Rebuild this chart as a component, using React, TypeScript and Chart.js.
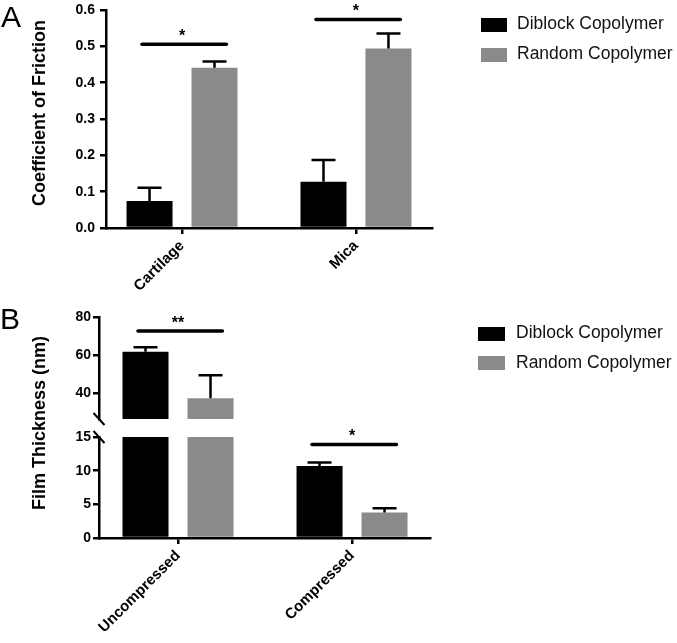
import React, { useEffect, useRef } from 'react';
import Chart from 'chart.js/auto';

const FONT = '"Liberation Sans", Arial, Helvetica, sans-serif';

// ---------- data ----------
const seriesNames = ['Diblock Copolymer', 'Random Copolymer'];
const seriesColors = ['#000000', '#8a8a8a'];

const frictionCategories = ['Cartilage', 'Mica'];
const frictionDiblock = [0.074, 0.127];
const frictionDiblockErr = [0.037, 0.06];
const frictionRandom = [0.441, 0.494];
const frictionRandomErr = [0.017, 0.041];
const frictionTicks = [0, 0.1, 0.2, 0.3, 0.4, 0.5, 0.6];
const frictionSigY = [0.506, 0.574];
const frictionSigLabels = ['*', '*'];

const thicknessCategories = ['Uncompressed', 'Compressed'];
const thicknessDiblock = [61.7, 10.68];
const thicknessDiblockErr = [2.4, 0.55];
const thicknessRandom = [37.1, 3.78];
const thicknessRandomErr = [12.2, 0.65];
const thicknessUpperTicks = [40, 60, 80];
const thicknessLowerTicks = [0, 5, 10, 15];
const thicknessSigY = [72.6, 13.9];
const thicknessSigLabels = ['**', '*'];

// ---------- plugins ----------
function errorBarPlugin(errs: number[][]) {
  return {
    id: 'errorBars',
    afterDatasetsDraw(chart: any) {
      const { ctx, chartArea } = chart;
      const y = chart.scales.y;
      ctx.save();
      ctx.beginPath();
      ctx.rect(chartArea.left, chartArea.top, chartArea.right - chartArea.left, chartArea.bottom - chartArea.top);
      ctx.clip();
      ctx.strokeStyle = '#000';
      ctx.lineWidth = 2.5;
      chart.data.datasets.forEach((ds: any, di: number) => {
        const meta = chart.getDatasetMeta(di);
        meta.data.forEach((bar: any, i: number) => {
          const v = ds.data[i].y;
          const top = y.getPixelForValue(v + errs[di][i]);
          const base = y.getPixelForValue(v);
          const cap = 24;
          ctx.beginPath();
          ctx.moveTo(bar.x, base);
          ctx.lineTo(bar.x, top);
          ctx.moveTo(bar.x - cap / 2, top);
          ctx.lineTo(bar.x + cap / 2, top);
          ctx.stroke();
        });
      });
      ctx.restore();
    },
  };
}

function sigPlugin(ys: number[], labels: string[]) {
  return {
    id: 'sigMarks',
    afterDatasetsDraw(chart: any) {
      const { ctx } = chart;
      const x = chart.scales.x;
      const y = chart.scales.y;
      ys.forEach((v, cat) => {
        if (v < y.min || v > y.max) return;
        const py = y.getPixelForValue(v);
        ctx.save();
        ctx.strokeStyle = '#000';
        ctx.lineWidth = 3.5;
        ctx.lineCap = 'round';
        ctx.beginPath();
        ctx.moveTo(x.getPixelForValue(cat - 0.23), py);
        ctx.lineTo(x.getPixelForValue(cat + 0.255), py);
        ctx.stroke();
        ctx.fillStyle = '#000';
        ctx.font = `bold 16px ${FONT}`;
        ctx.textAlign = 'center';
        ctx.textBaseline = 'alphabetic';
        ctx.fillText(labels[cat], x.getPixelForValue(cat), py - 3);
        ctx.restore();
      });
    },
  };
}

function breakPlugin(at: 'top' | 'bottom' | null) {
  return {
    id: 'axisBreak',
    afterDraw(chart: any) {
      if (!at) return;
      const { ctx, chartArea } = chart;
      const cx = chartArea.left;
      const cy = at === 'top' ? chartArea.top : chartArea.bottom;
      ctx.save();
      ctx.strokeStyle = '#000';
      ctx.lineWidth = 2;
      ctx.beginPath();
      ctx.moveTo(cx - 5.5, cy - 6);
      ctx.lineTo(cx + 5.5, cy + 6);
      ctx.stroke();
      ctx.restore();
    },
  };
}

type Cfg = {
  categories: string[];
  diblock: number[];
  diblockErr: number[];
  random: number[];
  randomErr: number[];
  yMin: number;
  yMax: number;
  yTicks: number[];
  yFormat: (v: number) => string;
  yWidth: number;
  yPad: number;
  xMin: number;
  xMax: number;
  showX: boolean;
  xHeight: number;
  padding: { top: number; right: number; bottom: number; left: number };
  sigY: number[];
  sigLabels: string[];
  breakAt: 'top' | 'bottom' | null;
};

function buildChart(canvas: HTMLCanvasElement, c: Cfg) {
  const mk = (vals: number[]) => vals.map((v, i) => ({ x: i, y: v }));
  const barOpts = { categoryPercentage: 0.747, barPercentage: 0.708, clip: 0, borderWidth: 0 };
  return new Chart(canvas, {
    type: 'bar',
    data: {
      datasets: [
        { label: seriesNames[0], data: mk(c.diblock), backgroundColor: seriesColors[0], ...barOpts },
        { label: seriesNames[1], data: mk(c.random), backgroundColor: seriesColors[1], ...barOpts },
      ] as any,
    },
    options: {
      responsive: false,
      animation: false,
      devicePixelRatio: 1,
      layout: { padding: c.padding },
      plugins: { legend: { display: false }, tooltip: { enabled: false } },
      scales: {
        x: {
          type: 'linear',
          display: c.showX,
          offset: false,
          bounds: 'data',
          min: c.xMin,
          max: c.xMax,
          afterBuildTicks: (s: any) => {
            s.ticks = c.categories.map((_, i) => ({ value: i }));
          },
          afterFit: (s: any) => {
            s.height = c.xHeight;
          },
          ticks: {
            autoSkip: false,
            minRotation: 45,
            maxRotation: 45,
            padding: 3,
            color: '#000',
            font: { family: FONT, size: 15, weight: 'bold' },
            callback: (_v: any, i: number) => c.categories[i],
          },
          grid: { offset: false, drawOnChartArea: false, drawTicks: true, tickLength: 6, color: '#000', lineWidth: 2.5 },
          border: { display: true, color: '#000', width: 2.5 },
        },
        y: {
          type: 'linear',
          min: c.yMin,
          max: c.yMax,
          afterBuildTicks: (s: any) => {
            s.ticks = c.yTicks.map((v) => ({ value: v }));
          },
          afterFit: (s: any) => {
            s.width = c.yWidth;
          },
          ticks: {
            padding: c.yPad,
            color: '#000',
            font: { family: FONT, size: 14, weight: 'bold', lineHeight: 0.7 },
            callback: (v: any) => c.yFormat(Number(v)),
          },
          grid: { drawOnChartArea: false, drawTicks: true, tickLength: 6, color: '#000', lineWidth: 2.5 },
          border: { display: true, color: '#000', width: 2.5 },
        },
      },
    } as any,
    plugins: [errorBarPlugin([c.diblockErr, c.randomErr]), sigPlugin(c.sigY, c.sigLabels), breakPlugin(c.breakAt)] as any,
  });
}

function ChartCanvas(props: { left: number; top: number; width: number; height: number; cfg: Cfg }) {
  const ref = useRef<HTMLCanvasElement>(null);
  useEffect(() => {
    const chart = buildChart(ref.current as HTMLCanvasElement, props.cfg);
    return () => chart.destroy();
  }, []);
  return (
    <canvas
      ref={ref}
      width={props.width}
      height={props.height}
      style={{ position: 'absolute', left: props.left, top: props.top, width: props.width, height: props.height }}
    />
  );
}

function Legend(props: { boxLeft: number; boxTops: number[]; boxW: number; boxH: number; textLeft: number; textTops: number[] }) {
  return (
    <>
      {seriesNames.map((name, i) => (
        <React.Fragment key={name}>
          <div
            style={{
              position: 'absolute',
              left: props.boxLeft,
              top: props.boxTops[i],
              width: props.boxW,
              height: props.boxH,
              background: seriesColors[i],
            }}
          />
          <div
            style={{
              position: 'absolute',
              left: props.textLeft,
              top: props.textTops[i],
              fontFamily: FONT,
              fontSize: 17.5,
              lineHeight: '17.5px',
              color: '#111',
              whiteSpace: 'nowrap',
            }}
          >
            {name}
          </div>
        </React.Fragment>
      ))}
    </>
  );
}

function VTitle(props: { cx: number; cy: number; text: string }) {
  return (
    <div
      style={{
        position: 'absolute',
        left: props.cx,
        top: props.cy,
        transform: 'translate(-50%, -50%) rotate(-90deg)',
        fontFamily: FONT,
        fontWeight: 'bold',
        fontSize: 18,
        lineHeight: '18px',
        color: '#000',
        whiteSpace: 'nowrap',
      }}
    >
      {props.text}
    </div>
  );
}

function PanelLetter(props: { left: number; top: number; text: string }) {
  return (
    <div
      style={{
        position: 'absolute',
        left: props.left,
        top: props.top,
        fontFamily: FONT,
        fontSize: 30,
        lineHeight: '30px',
        color: '#000',
      }}
    >
      {props.text}
    </div>
  );
}

const cfgA: Cfg = {
  categories: frictionCategories,
  diblock: frictionDiblock,
  diblockErr: frictionDiblockErr,
  random: frictionRandom,
  randomErr: frictionRandomErr,
  yMin: 0,
  yMax: 0.6,
  yTicks: frictionTicks,
  yFormat: (v) => v.toFixed(1),
  yWidth: 106,
  yPad: 5,
  xMin: -0.437,
  xMax: 1.437,
  showX: true,
  xHeight: 72,
  padding: { top: 10, right: 245, bottom: 0, left: 0 },
  sigY: frictionSigY,
  sigLabels: frictionSigLabels,
  breakAt: null,
};

const cfgBUpper: Cfg = {
  categories: thicknessCategories,
  diblock: thicknessDiblock,
  diblockErr: thicknessDiblockErr,
  random: thicknessRandom,
  randomErr: thicknessRandomErr,
  yMin: 26.2,
  yMax: 80,
  yTicks: thicknessUpperTicks,
  yFormat: (v) => String(v),
  yWidth: 99,
  yPad: 2,
  xMin: -0.454,
  xMax: 1.448,
  showX: false,
  xHeight: 0,
  padding: { top: 17, right: 247, bottom: 11, left: 0 },
  sigY: thicknessSigY,
  sigLabels: thicknessSigLabels,
  breakAt: 'bottom',
};

const cfgBLower: Cfg = {
  ...cfgBUpper,
  yMin: 0,
  yMax: 15,
  yTicks: thicknessLowerTicks,
  showX: true,
  xHeight: 105,
  padding: { top: 17, right: 247, bottom: 0, left: 0 },
  breakAt: 'top',
};

export default function App() {
  return (
    <div style={{ position: 'absolute', left: 0, top: 0, width: 677, height: 643, background: '#fff', overflow: 'hidden' }}>
      <ChartCanvas left={0} top={0} width={677} height={300} cfg={cfgA} />
      <ChartCanvas left={0} top={300} width={677} height={130} cfg={cfgBUpper} />
      <ChartCanvas left={0} top={420} width={677} height={223} cfg={cfgBLower} />
      <PanelLetter left={1} top={2} text="A" />
      <PanelLetter left={0} top={304} text="B" />
      <VTitle cx={38.5} cy={112.5} text="Coefficient of Friction" />
      <VTitle cx={38.5} cy={423} text="Film Thickness (nm)" />
      <Legend boxLeft={480.5} boxTops={[18.3, 47.7]} boxW={26} boxH={14} textLeft={517} textTops={[15.2, 44.5]} />
      <Legend boxLeft={478.3} boxTops={[326.7, 355.7]} boxW={27} boxH={14.5} textLeft={516} textTops={[323.5, 353.5]} />
    </div>
  );
}
